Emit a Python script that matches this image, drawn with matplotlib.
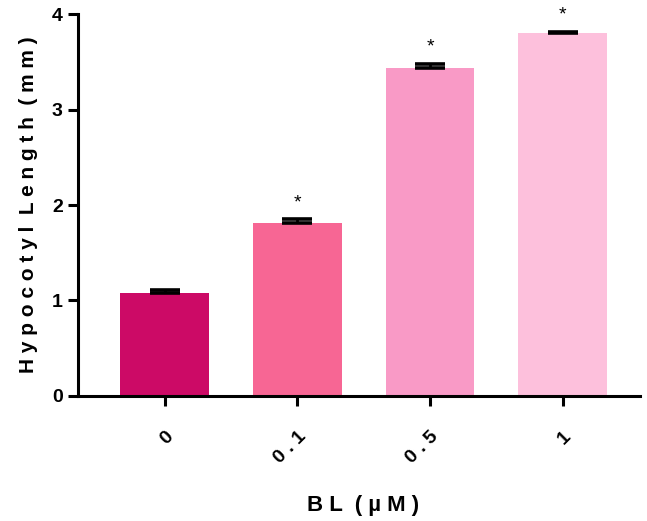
import numpy as np
import matplotlib
matplotlib.use('Agg')
import matplotlib.pyplot as plt

plt.rcParams['font.family'] = ['Liberation Sans', 'DejaVu Sans']
plt.rcParams['font.weight'] = 'bold'

# ── Data ─────────────────────────────────────────────────────────
doses = ['0', '0.1', '0.5', '1']
lengths = [1.08, 1.815, 3.43, 3.80]
sem = [0.03, 0.035, 0.045, 0.012]
signif = ['', '*', '*', '*']
colors = ['#CC0A66', '#F76694', '#F99AC6', '#FDC0DC']


def spaced(s, sep='\u200a'):
    # Prism-style wide letter spacing
    return sep.join(s)


fig = plt.figure(figsize=(6.47, 5.21), dpi=100)
ax = fig.add_axes([0.1206, 0.240, 0.868, 0.733])

x = np.arange(len(doses))
ax.bar(x, lengths, width=0.67, color=colors, zorder=2)
ax.errorbar(x, lengths, yerr=[np.zeros(len(sem)), sem], fmt='none',
            ecolor='black', elinewidth=2.0, capsize=11, capthick=2.6, zorder=3)

for xi, v, e, s in zip(x, lengths, sem, signif):
    if s:
        ax.annotate(s, (xi, v + e), textcoords='offset points', xytext=(0, 6),
                    ha='center', va='bottom', fontsize=14, fontweight='normal')

ax.set_xlim(-0.654, 3.58)
ax.set_ylim(0, 4)
ax.set_yticks([0, 1, 2, 3, 4])
ax.set_xticks(x)
ax.set_xticklabels([spaced(d, ' ') for d in doses], rotation=45, ha='right',
                   va='top', rotation_mode='anchor', fontsize=14)
ax.tick_params(axis='x', length=7, width=2.2, pad=16)
ax.tick_params(axis='y', length=7, width=2.2, labelsize=14, pad=4)
for lab in ax.get_yticklabels():
    lab.set_fontweight('bold')

for side in ['top', 'right']:
    ax.spines[side].set_visible(False)
for side in ['left', 'bottom']:
    ax.spines[side].set_linewidth(2.2)

ax.set_ylabel('H y p o c o t y l  L e n g t h  ( m m )', fontsize=15,
              fontweight='bold', labelpad=10)
fig.text(0.561, 0.03, 'B L  ( µ M )', ha='center', va='center',
         fontsize=16, fontweight='bold')

fig.savefig('out.png', dpi=100)
